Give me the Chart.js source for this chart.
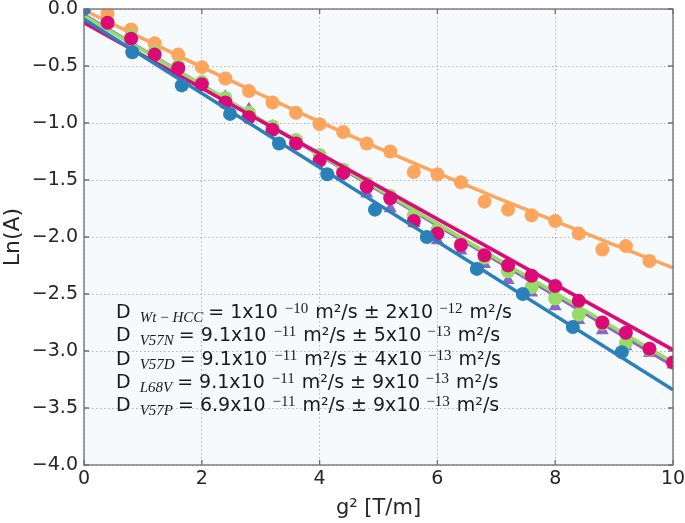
<!DOCTYPE html>
<html><head><meta charset="utf-8">
<script src="https://cdn.jsdelivr.net/npm/chart.js@4.4.0/dist/chart.umd.min.js"></script>
<style>html,body{margin:0;padding:0;background:#fff}#wrap{width:685px;height:523px;position:relative}</style>
</head><body><div id="wrap"><canvas id="c"></canvas></div>
<script>
// ---- tick labels / axes ----
const xTicks = [0, 2, 4, 6, 8, 10];
const yTicks = [0, -0.5, -1, -1.5, -2, -2.5, -3, -3.5, -4];
const xTitle = 'g\u00B2 [T/m]';
const yTitle = 'Ln(A)';

// ---- measured points ----
const orangeX = [0.4,0.8,1.2,1.6,2.0,2.4,2.8,3.2,3.6,4.0,4.4,4.8,5.2,5.6,6.0,6.4,6.8,7.2,7.6,8.0,8.4,8.8,9.2,9.6];
const orangeY = [-0.04,-0.18,-0.30,-0.40,-0.51,-0.61,-0.72,-0.82,-0.91,-1.01,-1.08,-1.18,-1.25,-1.43,-1.45,-1.52,-1.69,-1.76,-1.81,-1.86,-1.97,-2.11,-2.08,-2.21];

const blueX = [0,0.82,1.66,2.48,3.31,4.13,4.94,5.82,6.67,7.45,8.30,9.13];
const blueY = [0,-0.38,-0.67,-0.92,-1.18,-1.45,-1.76,-2.00,-2.28,-2.50,-2.79,-3.01];

const magentaX = [0.4,0.8,1.2,1.6,2.0,2.4,2.8,3.2,3.6,4.0,4.4,4.8,5.2,5.6,6.0,6.4,6.8,7.2,7.6,8.0,8.4,8.8,9.2,9.6,10.0];
const magentaY = [-0.12,-0.26,-0.40,-0.52,-0.66,-0.82,-0.95,-1.06,-1.18,-1.33,-1.44,-1.56,-1.66,-1.86,-1.97,-2.07,-2.16,-2.25,-2.34,-2.43,-2.56,-2.75,-2.84,-2.98,-3.10];

const greenX = [0.4,0.8,1.2,1.6,2.0,2.4,2.8,3.2,3.6,4.0,4.4,4.8,5.2,5.6,6.0,6.4,6.8,7.2,7.6,8.0,8.4,8.8,9.2,9.6,10.0];
const greenY = [-0.12,-0.24,-0.38,-0.50,-0.64,-0.78,-0.91,-1.03,-1.15,-1.28,-1.41,-1.53,-1.64,-1.81,-1.94,-2.06,-2.18,-2.30,-2.44,-2.54,-2.68,-2.76,-2.93,-2.99,-3.10];

const purpleX = [0,0.4,0.8,1.2,1.6,2.0,2.4,2.8,3.2,3.6,4.0,4.4,4.8,5.2,5.6,6.0,6.4,6.8,7.2,7.6,8.0,8.4,8.8,9.2,9.6,10.0];
const purpleY = [0,-0.13,-0.26,-0.39,-0.52,-0.65,-0.77,-0.88,-1.03,-1.16,-1.29,-1.42,-1.62,-1.75,-1.88,-2.03,-2.12,-2.24,-2.38,-2.49,-2.61,-2.73,-2.82,-2.96,-3.02,-3.12];

// ---- fitted lines ----
const fitX = [0, 10];
const blueFitY = [-0.09, -3.34];
const magentaFitY = [-0.12, -2.99];
const greenFitY = [-0.06, -3.10];
const purpleFitY = [-0.05, -3.13];
const orangeFitX = [0,1,2,3,4,5,6,7,8,9,10];
const orangeFitY = [-0.01,-0.26,-0.51,-0.75,-0.99,-1.22,-1.44,-1.655,-1.86,-2.07,-2.27];

// ---- annotation text ----
const annSubs = ['Wt\u2009\u2212\u2009HCC','V57N','V57D','L68V','V57P'];
const annVals = ['1x10','9.1x10','9.1x10','9.1x10','6.9x10'];
const annExp1 = ['\u221210','\u221211','\u221211','\u221211','\u221211'];
const annErrs = ['2x10','5x10','4x10','9x10','9x10'];
const annExp2 = ['\u221212','\u221213','\u221213','\u221213','\u221213'];

const C = {blue:'#2a80b9', orange:'#fea55d', magenta:'#db0a77', green:'#98dc68', purple:'#8b66c6'};
const pts = (xs, ys) => xs.map((x,i)=>({x, y: ys[i]}));

function scatterDs(xs, ys, color, style, order){
  return {data: pts(xs,ys), showLine:false, pointStyle:style, pointRadius: style==='triangle'?7.5:7,
    pointBackgroundColor:color, pointBorderColor:color, pointBorderWidth:0, backgroundColor:color, borderColor:color,
    clip:0, order};
}
function lineDs(xs, ys, color, order, tension){
  return {data: pts(xs,ys), showLine:true, pointRadius:0, borderColor:color, backgroundColor:color, borderWidth:3.5,
    tension: tension||0, cubicInterpolationMode: tension? 'monotone':'default', clip:0, order};
}

const datasets = [
  lineDs(fitX, blueFitY, C.blue, 0),
  scatterDs(blueX, blueY, C.blue, 'circle', 1),
  scatterDs(magentaX, magentaY, C.magenta, 'circle', 2),
  lineDs(fitX, magentaFitY, C.magenta, 3),
  scatterDs(greenX, greenY, C.green, 'circle', 4),
  lineDs(fitX, greenFitY, C.green, 5),
  scatterDs(purpleX, purpleY, C.purple, 'triangle', 6),
  lineDs(fitX, purpleFitY, C.purple, 7),
  scatterDs(orangeX, orangeY, C.orange, 'circle', 8),
  lineDs(orangeFitX, orangeFitY, C.orange, 9, 0.4),
];

const framePlugin = {
  id:'framePlugin',
  beforeDraw(chart){
    const {ctx, chartArea:a} = chart;
    ctx.save(); ctx.fillStyle='#f6fafc'; ctx.fillRect(a.left,a.top,a.right-a.left,a.bottom-a.top); ctx.restore();
  },
  afterDraw(chart){
    const {ctx, chartArea:a, scales} = chart;
    ctx.save();
    ctx.strokeStyle='#6e6e6e'; ctx.lineWidth=1.3;
    ctx.strokeRect(a.left, a.top, a.right-a.left, a.bottom-a.top);
    ctx.beginPath();
    xTicks.forEach(v=>{ const p=scales.x.getPixelForValue(v);
      ctx.moveTo(p,a.bottom); ctx.lineTo(p,a.bottom-5); ctx.moveTo(p,a.top); ctx.lineTo(p,a.top+5); });
    yTicks.forEach(v=>{ const p=scales.y.getPixelForValue(v);
      ctx.moveTo(a.left,p); ctx.lineTo(a.left+5,p); ctx.moveTo(a.right,p); ctx.lineTo(a.right-5,p); });
    ctx.stroke();
    // annotation
    const mainF='19px "DejaVu Sans"', subF='italic 15px "Liberation Serif"', supF='15px "Liberation Serif"';
    ctx.fillStyle='#1a1a1a'; ctx.textBaseline='alphabetic'; ctx.textAlign='left';
    for(let i=0;i<annSubs.length;i++){
      const base = a.top + 309 + i*23.3;
      let x = a.left + 32;
      ctx.font=mainF; ctx.fillText('D', x, base); x += ctx.measureText('D').width + 9;
      ctx.font=subF; ctx.fillText(annSubs[i], x, base+4); x += ctx.measureText(annSubs[i]).width + 5;
      ctx.font=mainF; let s='= '+annVals[i]; ctx.fillText(s, x, base); x += ctx.measureText(s).width + 7;
      ctx.font=supF; ctx.fillText(annExp1[i], x, base-5); x += ctx.measureText(annExp1[i]).width + 7;
      ctx.font=mainF; s='m\u00B2/s \u00B1 '+annErrs[i]; ctx.fillText(s, x, base); x += ctx.measureText(s).width + 6;
      ctx.font=supF; ctx.fillText(annExp2[i], x, base-5); x += ctx.measureText(annExp2[i]).width + 7;
      ctx.font=mainF; ctx.fillText('m\u00B2/s', x, base);
    }
    ctx.restore();
  }
};

function zeroPad(s){ s.paddingTop = 0; s.paddingBottom = 0; s.paddingLeft = 0; s.paddingRight = 0; }
const gridCommon = {color:'#b5b5b5', lineWidth:1, drawTicks:false};
new Chart(document.getElementById('c'), {
  type:'scatter',
  data:{datasets},
  options:{
    responsive:true, maintainAspectRatio:false, animation:false,
    layout:{padding:{left:0, top:9, right:12, bottom:0}},
    plugins:{legend:{display:false}, tooltip:{enabled:false}},
    scales:{
      x:{type:'linear', min:0, max:10,
        afterBuildTicks(s){ s.ticks = xTicks.map(v=>({value:v})); },
        afterFit(s){ s.height = 58; zeroPad(s); },
        grid:gridCommon, border:{display:false, dash:[1.5,2.5]},
        ticks:{padding:3, color:'#262626', font:{family:'"DejaVu Sans"', size:19}, maxRotation:0, callback:v=>String(v)},
        title:{display:true, text:xTitle, color:'#262626', font:{family:'"DejaVu Sans"', size:21}, padding:{top:2,bottom:2}}
      },
      y:{type:'linear', min:-4, max:0,
        afterBuildTicks(s){ s.ticks = yTicks.map(v=>({value:v})); },
        afterFit(s){ s.width = 84; zeroPad(s); },
        grid:gridCommon, border:{display:false, dash:[1.5,2.5]},
        ticks:{padding:6, color:'#262626', font:{family:'"DejaVu Sans"', size:19},
          callback:v=>(v<0?'\u2212':'')+Math.abs(v).toFixed(1)},
        title:{display:true, text:yTitle, color:'#262626', font:{family:'"DejaVu Sans"', size:22}, padding:{top:0,bottom:0}}
      }
    }
  },
  plugins:[framePlugin]
});
</script></body></html>
